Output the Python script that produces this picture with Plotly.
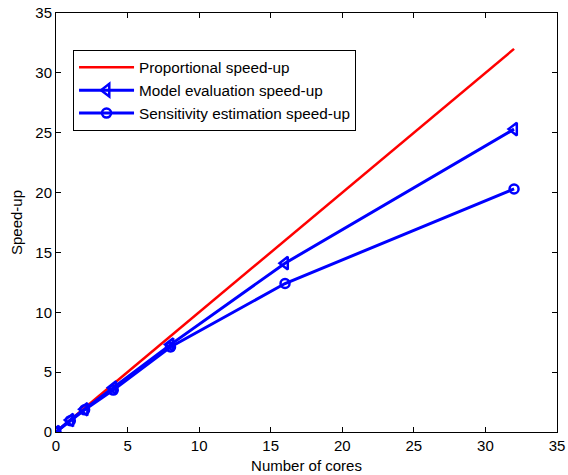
import plotly.graph_objects as go

cores = [0, 1, 2, 4, 8, 16, 32]
proportional = [0, 1, 2, 4, 8, 16, 32]
model_eval = [0, 1.0, 1.9, 3.7, 7.3, 14.1, 25.3]
sens_est = [0, 0.95, 1.85, 3.5, 7.1, 12.4, 20.3]

fig = go.Figure()
fig.add_trace(go.Scatter(x=cores, y=proportional, mode="lines", name="Proportional speed-up",
                         line=dict(color="#ff0000", width=2.5)))
fig.add_trace(go.Scatter(x=cores, y=model_eval, mode="lines+markers", name="Model evaluation speed-up",
                         line=dict(color="#0000ff", width=3),
                         marker=dict(symbol="triangle-left-open", size=11, color="#0000ff",
                                     line=dict(width=2.5, color="#0000ff"))))
fig.add_trace(go.Scatter(x=cores, y=sens_est, mode="lines+markers", name="Sensitivity estimation speed-up",
                         line=dict(color="#0000ff", width=3),
                         marker=dict(symbol="circle-open", size=9, color="#0000ff",
                                     line=dict(width=2.5, color="#0000ff"))))

axis_common = dict(showline=True, linecolor="black", linewidth=1, mirror="ticks",
                   ticks="inside", ticklen=5, tickcolor="black", showgrid=False, zeroline=False,
                   tickfont=dict(size=15, color="black"), dtick=5, automargin=False)

fig.update_layout(
    width=568, height=475,
    margin=dict(l=56, r=11, t=13, b=43),
    paper_bgcolor="white", plot_bgcolor="white",
    font=dict(family="Liberation Sans, Arial, sans-serif", color="black"),
    showlegend=True,
    legend=dict(x=0.034, y=0.912, xanchor="left", yanchor="top",
                bordercolor="black", borderwidth=1, bgcolor="white",
                font=dict(size=15.3, color="black"), tracegroupgap=0,
                itemwidth=55),
    xaxis=dict(range=[0, 35], title=dict(text="Number of cores", font=dict(size=15), standoff=7),
               **axis_common),
    yaxis=dict(range=[0, 35], title=dict(text="Speed-up", font=dict(size=15), standoff=9),
               **axis_common),
)

fig.write_html("out.html", config={"displayModeBar": False},
               post_script="document.body.style.margin='0';document.body.style.overflow='hidden';")
